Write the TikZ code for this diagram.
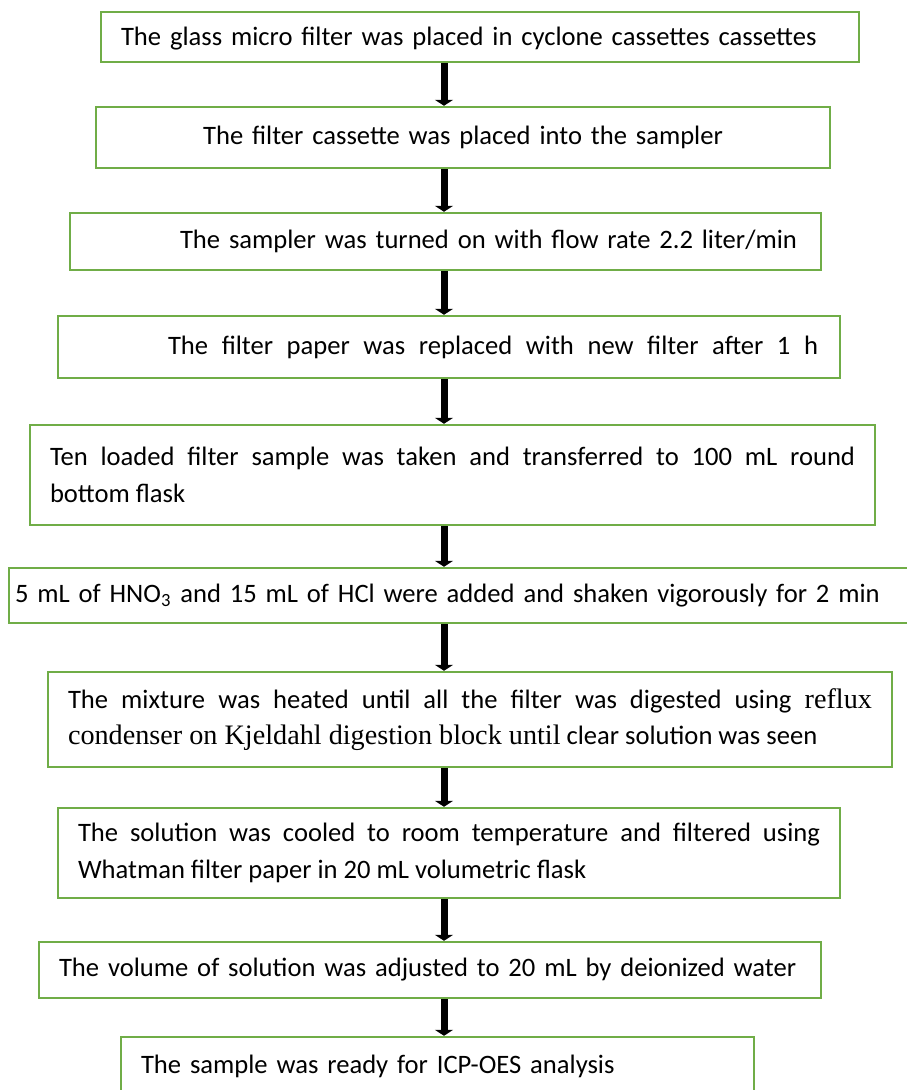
\documentclass[tikz,border=0pt]{standalone}
\usepackage{fontspec}
\setmainfont{Carlito}
\newfontfamily\timesfont[Scale=1.06]{Liberation Serif}
\usetikzlibrary{arrows.meta}
\definecolor{boxgreen}{RGB}{112,173,71}

\begin{document}
\begin{tikzpicture}[x=0.5pt,y=-0.5pt,
  stepbox/.style={draw=boxgreen,line width=1.2pt,rectangle,inner xsep=10pt,inner ysep=0pt,
    font=\fontsize{13.3}{18.3}\selectfont},
  flow/.style={line width=3.5pt,-{Triangle[width=9pt,length=3pt]}}]
 \useasboundingbox (0,0) rectangle (906,1090);
 \coordinate (ax) at (444,0);
 %step 1
 \node[stepbox,minimum width=379pt,minimum height=25pt,text width=359pt,align=left,
  text height=11pt,text depth=2pt] (b1) at (480,37)
  {\mbox{The glass micro filter was placed in cyclone cassettes cassettes}};
 %step 2
 \node[stepbox,minimum width=367pt,minimum height=30.5pt,text width=347pt,align=center] (b2) at (463,137.5)
  {The filter cassette was placed into the sampler};
 %step 3
 \node[stepbox,minimum width=375.5pt,minimum height=28.5pt,text width=355.5pt,align=left] (b3) at (445.5,241.5)
  {\hspace*{45pt}\mbox{The sampler was turned on with flow rate 2.2 liter/min}};
 %step 4 (spread out)
 \node[stepbox,minimum width=391pt,minimum height=31pt,text width=371pt,align=left] (b4) at (449,347)
  {\hspace*{45pt}\makebox[325pt][l]{The\hfill filter\hfill paper\hfill was\hfill replaced\hfill with\hfill new\hfill filter\hfill after\hfill 1\hfill h}};
 %step 5 (two lines)
 \node[stepbox,minimum width=422.5pt,minimum height=50pt,text width=402.5pt,align=justify] (b5) at (452.5,475)
  {Ten loaded filter sample was taken and transferred to 100 mL round\linebreak bottom flask};
 %step 6 (runs past the right edge)
 \node[stepbox,inner xsep=3pt,minimum width=451.5pt,minimum height=27.5pt,text width=445.5pt,align=left] (b6) at (460.5,595.5)
  {\mbox{5 mL of HNO\textsubscript{3} and 15 mL of HCl were added and shaken vigorously for 2 min}};
 %step 7 (two lines, partly serif)
 \node[stepbox,minimum width=422pt,minimum height=47.5pt,text width=402pt,align=justify] (b7) at (470,719.5)
  {The mixture was heated until all the filter was digested using {\timesfont reflux\linebreak condenser on Kjeldahl digestion block until} clear solution was seen};
 %step 8 (two lines)
 \node[stepbox,minimum width=391pt,minimum height=45pt,text width=371pt,align=justify] (b8) at (449,853)
  {The solution was cooled to room temperature and filtered using\linebreak Whatman filter paper in 20 mL volumetric flask};
 %step 9
 \node[stepbox,minimum width=391pt,minimum height=28pt,text width=371pt,align=left] (b9) at (430,970)
  {\mbox{The volume of solution was adjusted to 20 mL by deionized water}};
 %step 10 (bottom cut off)
 \node[stepbox,minimum width=316.5pt,minimum height=29pt,text width=296.5pt,align=left] (b10) at (437.5,1066)
  {The sample was ready for ICP-OES analysis};
 %arrows
 \foreach \i [evaluate=\i as \j using int(\i+1)] in {1,...,9}
  \draw[flow] (b\i.south -| ax) -- (b\j.north -| ax);
\end{tikzpicture}
\end{document}
